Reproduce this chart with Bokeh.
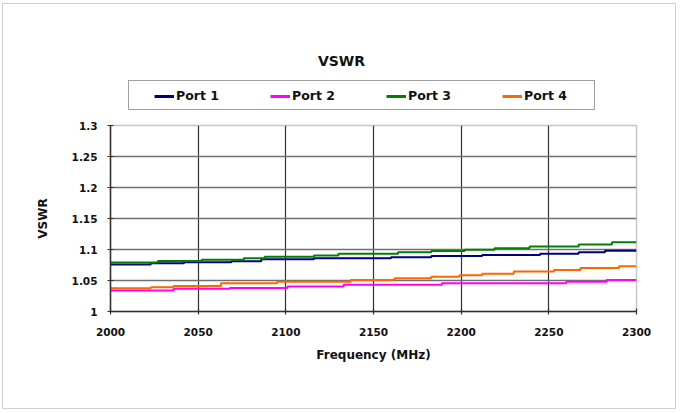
from bokeh.plotting import figure
from bokeh.models import Legend, LegendItem, FixedTicker, Range1d, Label
from bokeh.layouts import column
from bokeh.embed import file_html
from bokeh.resources import INLINE

# ---- data ----
series_names = ["Port 1", "Port 2", "Port 3", "Port 4"]

p1_freq = [2000, 2023, 2042, 2069, 2086, 2116, 2160, 2183, 2212, 2245, 2267, 2282, 2300]
p1_vswr = [1.076, 1.0777, 1.0793, 1.081, 1.0842, 1.0858, 1.0875, 1.0895, 1.0913, 1.093, 1.0955, 1.098, 1.098]

p2_freq = [2000, 2036, 2068, 2101, 2133, 2189, 2260, 2283, 2300]
p2_vswr = [1.034, 1.0365, 1.038, 1.0405, 1.043, 1.0455, 1.048, 1.051, 1.051]

p3_freq = [2000, 2027, 2052, 2076, 2088, 2116, 2130, 2164, 2183, 2202, 2219, 2239, 2267, 2286, 2300]
p3_vswr = [1.079, 1.0815, 1.0835, 1.086, 1.0885, 1.0905, 1.093, 1.0955, 1.0975, 1.0995, 1.102, 1.105, 1.108, 1.1115, 1.1115]

p4_freq = [2000, 2023, 2036, 2063, 2095, 2137, 2162, 2183, 2199, 2212, 2230, 2253, 2268, 2290, 2300]
p4_vswr = [1.0375, 1.039, 1.041, 1.0455, 1.048, 1.051, 1.0535, 1.056, 1.0585, 1.061, 1.0645, 1.067, 1.07, 1.073, 1.073]

x_ticks = [2000, 2050, 2100, 2150, 2200, 2250, 2300]
y_ticks = [1.0, 1.05, 1.1, 1.15, 1.2, 1.25, 1.3]
y_tick_labels = ["1", "1.05", "1.1", "1.15", "1.2", "1.25", "1.3"]

colors = ["#000080", "#FF00FF", "#008000", "#FF6600"]
all_freq = [p1_freq, p2_freq, p3_freq, p4_freq]
all_vswr = [p1_vswr, p2_vswr, p3_vswr, p4_vswr]

FONT = "DejaVu Sans"
TEXT_COLOR = "#111111"

# ---------------- header: title + legend ----------------
header = figure(
    frame_width=672, frame_height=113,
    x_range=Range1d(0, 1), y_range=Range1d(0, 1),
    x_axis_type=None, y_axis_type=None,
    min_border_left=0, min_border_right=0, min_border_top=0, min_border_bottom=0,
    output_backend="svg", toolbar_location=None,
    background_fill_color="white", border_fill_color="white",
)
header.outline_line_color = None

header.add_layout(Label(
    x=231, y=57, x_units="screen", y_units="screen", text="VSWR",
    text_align="center", text_baseline="middle",
    text_font=FONT, text_font_size="14px", text_font_style="bold", text_color=TEXT_COLOR,
))

# legend swatch carriers: the series themselves, lying outside this header's ranges
box_carrier = header.line(x=p1_freq, y=p1_vswr, line_alpha=0)
swatches = [header.line(x=fx, y=fy, line_color=c, line_width=3)
            for fx, fy, c in zip(all_freq, all_vswr, colors)]

# the legend frame
legend_box = Legend(
    items=[LegendItem(label=" ", renderers=[box_carrier])],
    location=(125, 7), orientation="horizontal",
    padding=0, spacing=0, margin=0,
    glyph_width=0, glyph_height=28, label_standoff=0, label_width=465, label_height=28,
    label_text_font_size="1px",
    border_line_color="#404040", border_line_width=1.5,
    background_fill_color="white", background_fill_alpha=1.0,
)
header.add_layout(legend_box)

legend = Legend(
    items=[LegendItem(label=n, renderers=[r]) for n, r in zip(series_names, swatches)],
    location=(144, 7), orientation="horizontal",
    padding=7, spacing=39, margin=0,
    glyph_width=20, glyph_height=10, label_standoff=2, label_height=12, label_width=55,
    label_text_font=FONT, label_text_font_size="12.5px", label_text_font_style="bold",
    label_text_color=TEXT_COLOR,
    border_line_alpha=0, background_fill_alpha=0,
)
header.add_layout(legend)

# ---------------- main chart ----------------
p = figure(
    frame_width=526, frame_height=186,
    x_range=Range1d(2000, 2300), y_range=Range1d(1.0, 1.3),
    min_border_left=107, min_border_right=39,
    min_border_top=8, min_border_bottom=97,
    output_backend="svg", toolbar_location=None,
    background_fill_color="white", border_fill_color="white",
)

p.outline_line_color = "#c8c8c8"
p.outline_line_width = 1.5
p.xgrid.ticker = FixedTicker(ticks=x_ticks[1:-1])
p.ygrid.ticker = FixedTicker(ticks=y_ticks[1:-1])
p.xgrid.grid_line_color = "#303030"
p.xgrid.grid_line_width = 1.2
p.ygrid.grid_line_color = "#707070"
p.ygrid.grid_line_width = 1.6

p.xaxis.ticker = FixedTicker(ticks=x_ticks)
p.yaxis.ticker = FixedTicker(ticks=y_ticks)
p.yaxis.major_label_overrides = {t: s for t, s in zip(y_ticks, y_tick_labels)}
for ax in (p.xaxis[0], p.yaxis[0]):
    ax.axis_line_color = "#303030"
    ax.axis_line_width = 1.5
    ax.major_tick_line_color = "#303030"
    ax.major_tick_line_width = 1.2
    ax.major_tick_in = 3
    ax.major_tick_out = 3
    ax.minor_tick_line_color = None
    ax.major_label_text_font = FONT
    ax.major_label_text_font_size = "10.5px"
    ax.major_label_text_font_style = "bold"
    ax.major_label_text_color = TEXT_COLOR
    ax.axis_label_text_font = FONT
    ax.axis_label_text_font_size = "12px"
    ax.axis_label_text_font_style = "bold"
    ax.axis_label_text_color = TEXT_COLOR

p.xaxis.axis_label = "Frequency (MHz)"
p.xaxis.major_label_standoff = 13
p.xaxis.axis_label_standoff = 9
p.yaxis.axis_label = "VSWR"
p.yaxis.major_label_standoff = 10
p.yaxis.axis_label_standoff = 19

for fx, fy, c in zip(all_freq, all_vswr, colors):
    p.step(fx, fy, mode="after", line_color=c, line_width=2)

layout = column(header, p, spacing=0,
                styles={"border": "1px solid #d0d0d0", "margin-left": "2px", "margin-top": "3px"})

open("out.html", "w").write(file_html(layout, INLINE))
